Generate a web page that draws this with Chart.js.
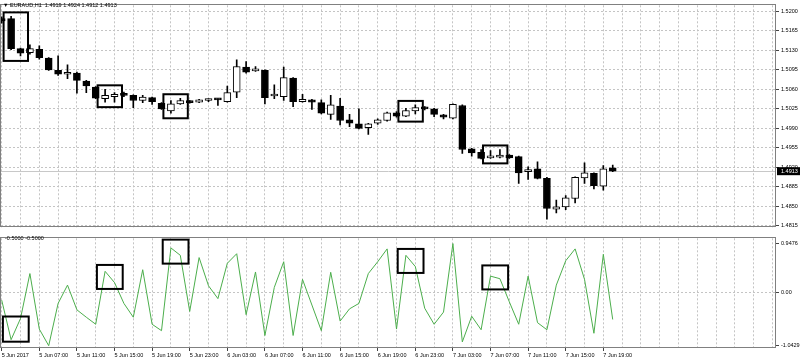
<!DOCTYPE html>
<html>
<head>
<meta charset="utf-8">
<script src="https://cdn.jsdelivr.net/npm/chart.js@4.4.1/dist/chart.umd.min.js"></script>
<style>
  body { margin: 0; background: #fff; width: 800px; height: 362px; position: relative; overflow: hidden; font-family: 'Liberation Sans', Arial, sans-serif; }
  canvas { position: absolute; left: 0; }
  #main { top: 0; }
  #ind { top: 233px; }
  .lbl { position: absolute; font-size: 5.5px; line-height: 1; color: #000; white-space: pre; }
</style>
</head>
<body>
<canvas id="main" width="800" height="233"></canvas>
<canvas id="ind" width="800" height="129"></canvas>
<div class="lbl" style="left:3px; top:3px;">▼ EURAUD,H1  1.4919 1.4924 1.4912 1.4913</div>
<div class="lbl" style="left:5px; top:236px;">-0.5000 -0.5000</div>
<script>
// EURAUD H1, first bar 5 Jun 2017 03:00
const timeLabels = ['5 Jun 2017', '5 Jun 07:00', '5 Jun 11:00', '5 Jun 15:00', '5 Jun 19:00', '5 Jun 23:00',
    '6 Jun 03:00', '6 Jun 07:00', '6 Jun 11:00', '6 Jun 15:00', '6 Jun 19:00', '6 Jun 23:00',
    '7 Jun 03:00', '7 Jun 07:00', '7 Jun 11:00', '7 Jun 15:00', '7 Jun 19:00'];
const priceTicks = [1.4815, 1.4850, 1.4885, 1.4920, 1.4955, 1.4990, 1.5025, 1.5060, 1.5095, 1.5130, 1.5165, 1.5200];
const indTicks = [-1.0429, 0, 0.9476];

const opens = [1.5187, 1.5187, 1.5133, 1.5126, 1.5132, 1.5116, 1.5094, 1.5087, 1.5089, 1.5075,
    1.5064, 1.5043, 1.5047, 1.5053, 1.5049, 1.5040, 1.5045, 1.5035, 1.5021, 1.5034,
    1.5038, 1.5037, 1.5040, 1.5042, 1.5038, 1.5055, 1.5100, 1.5093, 1.5094, 1.5048,
    1.5047, 1.5080, 1.5038, 1.5041, 1.5036, 1.5015, 1.5030, 1.5005, 1.4998, 1.4991,
    1.4999, 1.5004, 1.5018, 1.5012, 1.5021, 1.5028, 1.5025, 1.5014, 1.5008, 1.5031,
    1.4953, 1.4947, 1.4937, 1.4938, 1.4942, 1.4939, 1.4912, 1.4917, 1.4900, 1.4845,
    1.4849, 1.4864, 1.4901, 1.4909, 1.4886, 1.4919];
const highs = [1.5190, 1.5191, 1.5134, 1.5140, 1.5138, 1.5117, 1.5120, 1.5104, 1.5091, 1.5076,
    1.5065, 1.5060, 1.5054, 1.5055, 1.5050, 1.5049, 1.5046, 1.5036, 1.5040, 1.5044,
    1.5040, 1.5042, 1.5043, 1.5043, 1.5066, 1.5113, 1.5110, 1.5101, 1.5095, 1.5068,
    1.5100, 1.5081, 1.5051, 1.5042, 1.5041, 1.5049, 1.5044, 1.5015, 1.5025, 1.4999,
    1.5007, 1.5019, 1.5020, 1.5026, 1.5032, 1.5029, 1.5026, 1.5015, 1.5034, 1.5032,
    1.4954, 1.4952, 1.4950, 1.4952, 1.4943, 1.4940, 1.4921, 1.4930, 1.4902, 1.4861,
    1.4869, 1.4903, 1.4928, 1.4910, 1.4923, 1.4924];
const lows = [1.5179, 1.5131, 1.5120, 1.5123, 1.5114, 1.5094, 1.5085, 1.5079, 1.5053, 1.5054,
    1.5043, 1.5037, 1.5037, 1.5047, 1.5027, 1.5036, 1.5033, 1.5024, 1.5017, 1.5033,
    1.5035, 1.5036, 1.5038, 1.5031, 1.5037, 1.5045, 1.5089, 1.5092, 1.5034, 1.5043,
    1.5040, 1.5029, 1.5037, 1.5024, 1.5016, 1.5006, 1.4996, 1.4993, 1.4989, 1.4979,
    1.4997, 1.5003, 1.5010, 1.5011, 1.5016, 1.5023, 1.5011, 1.5007, 1.5007, 1.4945,
    1.4940, 1.4935, 1.4936, 1.4937, 1.4936, 1.4891, 1.4898, 1.4899, 1.4827, 1.4838,
    1.4844, 1.4856, 1.4891, 1.4881, 1.4879, 1.4912];
const closes = [1.5183, 1.5133, 1.5125, 1.5133, 1.5117, 1.5095, 1.5087, 1.5090, 1.5076, 1.5066,
    1.5044, 1.5049, 1.5051, 1.5049, 1.5040, 1.5046, 1.5038, 1.5025, 1.5034, 1.5040,
    1.5036, 1.5041, 1.5041, 1.5041, 1.5054, 1.5101, 1.5091, 1.5096, 1.5045, 1.5049,
    1.5081, 1.5038, 1.5042, 1.5037, 1.5017, 1.5032, 1.5004, 1.4999, 1.4990, 1.4998,
    1.5005, 1.5018, 1.5012, 1.5022, 1.5027, 1.5025, 1.5015, 1.5010, 1.5033, 1.4952,
    1.4946, 1.4936, 1.4940, 1.4942, 1.4937, 1.4910, 1.4916, 1.4900, 1.4846, 1.4849,
    1.4865, 1.4902, 1.4910, 1.4887, 1.4917, 1.4913];

const indValues = [-0.156, -0.926, -0.513, 0.363, -0.719, -1.0429, -0.219, 0.138, -0.344, -0.488,
    -0.625, 0.407, 0.188, -0.219, -0.488, 0.438, -0.625, -0.750, 0.863, 0.719,
    -0.375, 0.675, 0.125, -0.125, 0.563, 0.750, -0.438, 0.394, -0.844, 0.094,
    0.594, -0.844, 0.250, -0.250, -0.750, 0.388, -0.563, -0.325, -0.219, 0.363,
    0.594, 0.844, -0.719, 0.719, 0.500, -0.313, -0.625, -0.388, 0.9476, -0.969,
    -0.469, -0.732, 0.313, 0.263, -0.188, -0.625, 0.313, -0.594, -0.732, 0.138,
    0.613, 0.844, 0.250, -0.801, 0.738, -0.532];

// first bar of each highlighted two-bar pattern
const markedBars = [1, 11, 18, 43, 52];

const FONT = "'Liberation Sans', Arial, sans-serif";
const GRID = '#c4c4c4';
const FRAME = '#808080';
const X_MIN = -0.075;
const X_MAX = 82.37;

const gridTicks = (scale) => {
    const t = [];
    for (let v = 0; v <= X_MAX; v += 2) t.push({ value: v });
    scale.ticks = t;
};

const timeLabel = (v) => (v % 4 === 0 && timeLabels[v / 4]) ? timeLabels[v / 4] : '';

// frame around the plot area
const frame = {
    id: 'frame',
    afterDraw(chart) {
        const { ctx, chartArea: a } = chart;
        ctx.save();
        ctx.strokeStyle = FRAME;
        ctx.lineWidth = 1;
        ctx.strokeRect(Math.round(a.left) - 0.5, Math.round(a.top) - 0.5, Math.round(a.right - a.left), Math.round(a.bottom - a.top));
        ctx.restore();
    },
};

// last price line + label on the price axis
const lastPrice = {
    id: 'lastPrice',
    beforeDatasetsDraw(chart) {
        const { ctx, chartArea: a, scales: { y } } = chart;
        const py = Math.round(y.getPixelForValue(closes[closes.length - 1])) + 0.5;
        ctx.save();
        ctx.strokeStyle = '#c8c8c8';
        ctx.lineWidth = 1;
        ctx.beginPath();
        ctx.moveTo(a.left, py);
        ctx.lineTo(a.right, py);
        ctx.stroke();
        ctx.restore();
    },
    afterDraw(chart) {
        const { ctx, chartArea: a, scales: { y } } = chart;
        const last = closes[closes.length - 1];
        const py = y.getPixelForValue(last);
        ctx.save();
        ctx.fillStyle = '#000';
        ctx.fillRect(a.right + 1, py - 4, 24, 8);
        ctx.fillStyle = '#fff';
        ctx.font = '5.5px ' + FONT;
        ctx.textBaseline = 'middle';
        ctx.fillText(last.toFixed(4), a.right + 5, py);
        ctx.restore();
    },
};

// black boxes round the marked candle pairs
const candleBoxes = {
    id: 'candleBoxes',
    afterDatasetsDraw(chart) {
        const { ctx, scales: { x, y } } = chart;
        ctx.save();
        ctx.strokeStyle = '#000';
        ctx.lineWidth = 2;
        markedBars.forEach((i) => {
            const left = x.getPixelForValue(i) - 7.5;
            const right = x.getPixelForValue(i + 1) + 7.5;
            const top = y.getPixelForValue(Math.max(highs[i], highs[i + 1])) - 4;
            const bottom = y.getPixelForValue(Math.min(lows[i], lows[i + 1])) + 5;
            ctx.strokeRect(left, top, right - left, bottom - top);
        });
        ctx.restore();
    },
};

const lineBoxes = {
    id: 'lineBoxes',
    afterDatasetsDraw(chart) {
        const { ctx, scales: { x, y } } = chart;
        ctx.save();
        ctx.strokeStyle = '#000';
        ctx.lineWidth = 2;
        markedBars.forEach((i) => {
            const a = y.getPixelForValue(indValues[i]);
            const b = y.getPixelForValue(indValues[i + 1]);
            const h = Math.max(Math.abs(a - b) + 4, 24);
            const left = x.getPixelForValue(i) - 8.2;
            const right = x.getPixelForValue(i + 1) + 8.2;
            ctx.strokeRect(left, (a + b) / 2 - h / 2, right - left, h);
        });
        ctx.restore();
    },
};

const bodies = opens.map((o, i) => ({ x: i, y: [o, closes[i]] }));
const wicks = lows.map((l, i) => ({ x: i, y: [l, highs[i]] }));

new Chart(document.getElementById('main'), {
    type: 'bar',
    data: {
        datasets: [
            {
                label: 'body',
                data: bodies,
                backgroundColor: (c) => closes[c.dataIndex] < opens[c.dataIndex] ? '#000' : '#fff',
                borderColor: '#000',
                borderWidth: 1,
                borderSkipped: false,
                barThickness: 7,
                minBarLength: 2,
                grouped: false,
                order: 0,
            },
            {
                label: 'wick',
                data: wicks,
                backgroundColor: '#000',
                borderWidth: 0,
                barThickness: 1,
                grouped: false,
                order: 1,
            },
        ],
    },
    options: {
        responsive: false,
        animation: false,
        events: [],
        layout: { padding: { left: 1, top: 1, right: 0, bottom: 1 } },
        plugins: { legend: { display: false }, tooltip: { enabled: false } },
        scales: {
            x: {
                type: 'linear',
                offset: false,
                min: X_MIN,
                max: X_MAX,
                afterBuildTicks: gridTicks,
                afterFit: (s) => { s.height = 0; },
                ticks: { display: false },
                grid: { color: GRID, drawTicks: false, offset: false },
                border: { display: false, dash: [2, 2] },
            },
            y: {
                position: 'right',
                min: 1.48115,
                max: 1.52109,
                afterBuildTicks: (s) => { s.ticks = priceTicks.map((v) => ({ value: v })); },
                afterFit: (s) => { s.width = 24; },
                ticks: {
                    callback: (v) => v.toFixed(4),
                    autoSkip: false,
                    font: { size: 5.5, family: FONT },
                    color: '#000',
                    padding: 2,
                },
                grid: { color: GRID, tickLength: 3, tickColor: '#444', tickBorderDash: [] },
                border: { display: false, dash: [2, 2] },
            },
        },
    },
    plugins: [lastPrice, candleBoxes, frame],
});

new Chart(document.getElementById('ind'), {
    type: 'line',
    data: {
        datasets: [
            {
                label: 'indicator',
                data: indValues.map((v, i) => ({ x: i, y: v })),
                borderColor: '#4cae4c',
                borderWidth: 1,
                pointRadius: 0,
                tension: 0,
                fill: false,
            },
        ],
    },
    options: {
        responsive: false,
        animation: false,
        events: [],
        layout: { padding: { left: 1, top: 1, right: 0, bottom: 0 } },
        plugins: { legend: { display: false }, tooltip: { enabled: false } },
        scales: {
            x: {
                type: 'linear',
                offset: false,
                min: X_MIN,
                max: X_MAX,
                afterBuildTicks: gridTicks,
                afterFit: (s) => { s.height = 14; },
                ticks: {
                    callback: (v) => timeLabel(v),
                    align: 'start',
                    autoSkip: false,
                    maxRotation: 0,
                    font: { size: 5.5, family: FONT },
                    color: '#000',
                    padding: 1,
                },
                grid: {
                    color: GRID,
                    tickLength: 3,
                    tickColor: (c) => timeLabel(c.tick.value) ? '#444' : 'rgba(0,0,0,0)',
                    tickBorderDash: [],
                },
                border: { display: false, dash: [2, 2] },
            },
            y: {
                position: 'right',
                min: -1.088,
                max: 1.0507,
                afterBuildTicks: (s) => { s.ticks = indTicks.map((v) => ({ value: v })); },
                afterFit: (s) => { s.width = 24; },
                ticks: {
                    callback: (v) => v === 0 ? '0.00' : v.toFixed(4),
                    autoSkip: false,
                    font: { size: 5.5, family: FONT },
                    color: '#000',
                    padding: 2,
                },
                grid: {
                    color: (c) => c.tick.value === 0 ? GRID : 'rgba(0,0,0,0)',
                    tickLength: 3,
                    tickColor: '#444',
                    tickBorderDash: [],
                },
                border: { display: false, dash: [2, 2] },
            },
        },
    },
    plugins: [lineBoxes, frame],
});
</script>
</body>
</html>
